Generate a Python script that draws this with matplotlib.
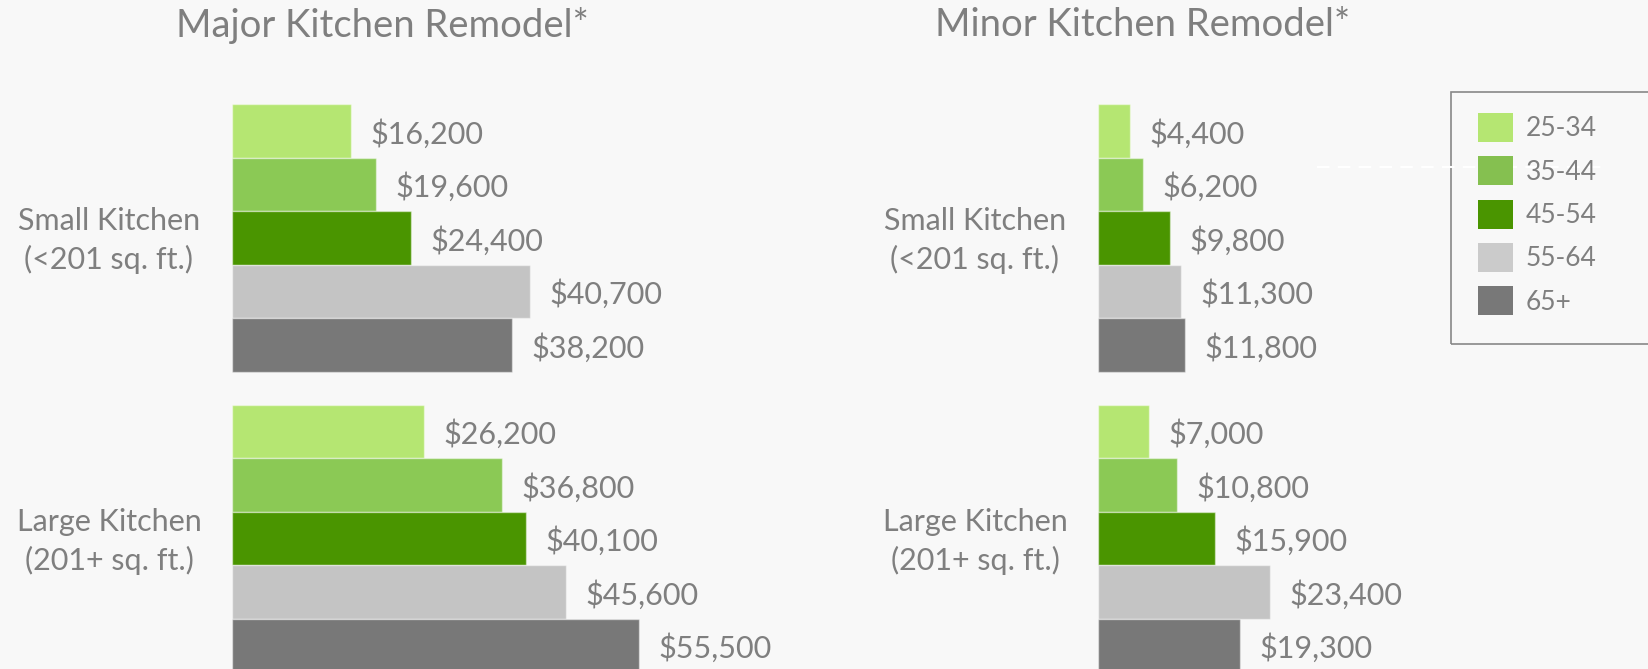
import matplotlib.pyplot as plt
from matplotlib.patches import Rectangle, Patch
from matplotlib.lines import Line2D

plt.rcParams['font.family'] = ['Lato', 'DejaVu Sans']

age_groups = ["25-34", "35-44", "45-54", "55-64", "65+"]
colors = ["#b5e672", "#8bc955", "#4a9500", "#c4c4c4", "#787878"]
legend_colors = ["#b5e672", "#85c050", "#4a9500", "#cbcbcb", "#787878"]
kitchens = ["Small Kitchen\n(<201 sq. ft.)", "Large Kitchen\n(201+ sq. ft.)"]

major_small = [16200, 19600, 24400, 40700, 38200]
major_large = [26200, 36800, 40100, 45600, 55500]
minor_small = [4400, 6200, 9800, 11300, 11800]
minor_large = [7000, 10800, 15900, 23400, 19300]

titles = ["Major Kitchen Remodel*", "Minor Kitchen Remodel*"]
panels = [[major_small, major_large], [minor_small, minor_large]]

bg = "#f8f8f8"
txt = "#7f7f7f"
W, H = 1648, 669
group_gap = 5.62

fig = plt.figure(figsize=(W / 100, H / 100), dpi=100, facecolor=bg)

lefts = [232, 1098]
title_x = [382, 1143]
label_x = [109, 975]
top_px = 104
ax_h = (H - top_px) / H

for p in range(2):
    ax = fig.add_axes([lefts[p] / W, 0, 440 / W, ax_h])
    ax.set_facecolor(bg)
    for g, vals in enumerate(panels[p]):
        ys = [g * group_gap + i for i in range(len(vals))]
        ax.barh(ys, vals, height=1, align='edge', color=colors,
                edgecolor=(1, 1, 1, 0.45), linewidth=1)
        for y, v in zip(ys, vals):
            ax.annotate("${:,}".format(v), (v, y + 0.5), xytext=(14, -2),
                        textcoords='offset points', va='center', ha='left',
                        fontsize=22, color=txt, annotation_clip=False)
        ax.text(label_x[p] / W, 1 - (top_px + 3 + (g * group_gap + 2.5) * 53.5) / H,
                kitchens[g], transform=fig.transFigure, ha='center',
                va='center', fontsize=22, color=txt, linespacing=1.4)
    ax.set_xlim(0, 60000)
    ax.set_ylim((H - top_px) / 53.5, 0)
    ax.axis('off')
    fig.text(title_x[p] / W, 1 - 25 / H, titles[p], ha='center', va='center',
             fontsize=27.5, color=txt)

# legend box runs off the right edge
fig.add_artist(Rectangle((1451 / W, 1 - 344 / H), 300 / W, 252 / H,
                         transform=fig.transFigure, facecolor='none',
                         edgecolor='#888888', linewidth=1.2, clip_on=False))
fig.add_artist(Line2D([1317 / W, 1607 / W], [1 - 167 / H, 1 - 167 / H],
                      transform=fig.transFigure, color='white', lw=1.5,
                      ls=(0, (6, 4))))
handles = [Patch(facecolor=c, edgecolor='none') for c in legend_colors]
fig.legend(handles, age_groups, loc='upper left',
           bbox_to_anchor=(1465 / W, 1 - 100 / H), frameon=False,
           fontsize=19, labelcolor=txt, handlelength=1.3, handleheight=1.3,
           handletextpad=0.5, labelspacing=0.55, borderpad=0)

fig.savefig("out.png", dpi=100, facecolor=bg)
